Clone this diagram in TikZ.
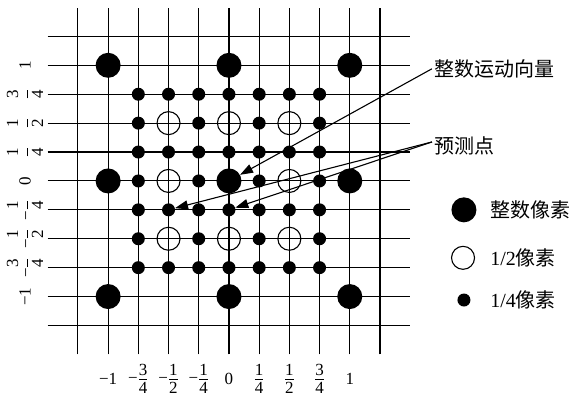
\documentclass[tikz,border=0pt]{standalone}
\usepackage{amsmath}
\usepackage{fontspec}
\setmainfont{Liberation Serif}
\newfontfamily\cjk{Noto Sans CJK SC}
\usetikzlibrary{arrows.meta,positioning}
\def\fst{1}
\newcommand{\qfrac}[2]{$\genfrac{}{}{0.6pt}{\fst}{\hbox{\raisebox{1.5pt}{#1}}}{\hbox{\rule{0pt}{0.8em}#2}}$}

\begin{document}
\begin{tikzpicture}[x=30.2pt,y=28.9pt,>={Triangle[length=13pt,width=9pt]},
  ipel/.style={circle,fill=black,inner sep=0pt,minimum size=25pt},
  hpel/.style={circle,draw=black,line width=1.1pt,inner sep=0pt,minimum size=23pt},
  qpel/.style={circle,fill=black,inner sep=0pt,minimum size=13pt},
  axlab/.style={font=\fontsize{17}{17}\selectfont,inner sep=0pt},
  cnlab/.style={font=\fontsize{20}{20}\selectfont\cjk,inner sep=2pt}]
\useasboundingbox (-7.58,-7.44) rectangle (11.49,6.26);
\foreach \k in {-5,...,5}{
  \draw[line width=1.1pt] (\k,-6) -- (\k,6);
  \draw[line width=1.1pt] (-6,\k) -- (6,\k);
}
\foreach \k/\t in {-4/{−1},-3/{−\qfrac34},-2/{−\qfrac12},-1/{−\qfrac14},
    0/{0},1/{\qfrac14},2/{\qfrac12},3/{\qfrac34},4/{1}}{
  \node[axlab] (bx\k) at (\k,-6.85) {\t};
  \node[axlab,rotate=90] (ly\k) at (-6.75,\k) {\def\fst{0}\t};
}
% quarter, half and integer pixels
\foreach \i in {-3,...,3}
  \foreach \j in {-3,...,3}{
    \ifodd\numexpr(\i+1)*(\j+1)\relax\else
      \node[qpel] (q\i\j) at (\i,\j) {};
    \fi}
\foreach \i/\j in {-2/2,0/2,2/2,-2/0,2/0,-2/-2,0/-2,2/-2}
  \node[hpel] (h\i\j) at (\i,\j) {};
\foreach \i in {-4,0,4}
  \foreach \j in {-4,0,4}
    \node[ipel] (n\i\j) at (\i,\j) {};

\node[cnlab,anchor=west] (mv) at (6.72,3.88) {整数运动向量};
\node[cnlab,anchor=west] (pred) at (6.72,1.21) {预测点};
\draw[->,line width=1.1pt] (mv.west) -- (n00);
\draw[->,line width=1.1pt] ([yshift=4pt]pred.west) -- (q-2-1);
\draw[->,line width=1.1pt] ([yshift=4pt]pred.west) -- (q0-1);

% legend
\node[ipel] (lgi) at (7.78,-1) {};
\node[hpel] (lgh) at (7.75,-2.66) {};
\node[qpel] (lgq) at (7.78,-4.12) {};
\node[cnlab,anchor=west] (lgit) at (8.58,-1) {整数像素};
\node[cnlab,anchor=west] (lght) at (8.58,-2.66) {{\rmfamily 1/2}像素};
\node[cnlab,anchor=west] (lgqt) at (8.58,-4.12) {{\rmfamily 1/4}像素};
\end{tikzpicture}
\end{document}
